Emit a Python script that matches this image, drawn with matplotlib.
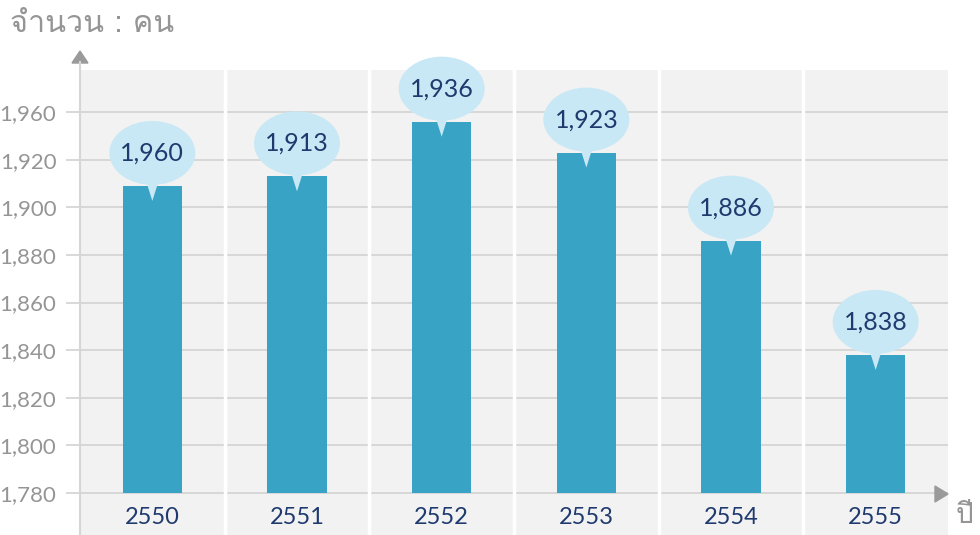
import matplotlib
matplotlib.use("Agg")
import matplotlib.pyplot as plt
from matplotlib import font_manager as fm
from matplotlib.ft2font import FT2Font
from matplotlib.patches import Ellipse, Polygon

# ---------------- data ----------------
years = ["2550", "2551", "2552", "2553", "2554", "2555"]
bar_values = [1909, 1913, 1936, 1923, 1886, 1838]
bubble_labels = ["1,960", "1,913", "1,936", "1,923", "1,886", "1,838"]
ytick_values = [1780, 1800, 1820, 1840, 1860, 1880, 1900, 1920, 1940]
ytick_labels = ["1,780", "1,800", "1,820", "1,840", "1,860", "1,880", "1,900", "1,920", "1,960"]
y_title = "จำนวน : คน"
x_title = "ปี"

BAR = "#38a3c5"
BUBBLE = "#c9e8f5"
NAVY = "#1f3a6e"
GREY_TXT = "#959595"
GRID = "#d2d2d2"
PANEL = "#f2f2f2"


def find_thai_font():
    for f in fm.fontManager.ttflist:
        try:
            if 0x0E08 in FT2Font(f.fname).get_charmap():
                return f.name
        except Exception:
            pass
    return "DejaVu Sans"


thai_font = find_thai_font()
num_font = "Lato"

W, H = 980, 535
fig = plt.figure(figsize=(W / 100, H / 100), dpi=100)
ax_left, ax_right, ax_top = 80, 948, 70
ax = fig.add_axes([ax_left / W, 0, (ax_right - ax_left) / W, (H - ax_top) / H])

ylo, yhi = 1762.35, 1957.7
ax.set_xlim(-0.5, len(years) - 0.5)
ax.set_ylim(ylo, yhi)
ax.set_facecolor(PANEL)
for s in ax.spines.values():
    s.set_visible(False)

# pixel -> data scale
px_x = (ax_right - ax_left) / len(years)
px_y = (H - ax_top) / (yhi - ylo)

# white separators between columns
for i in range(1, len(years)):
    ax.axvline(i - 0.5, color="white", lw=2.5, zorder=1)

# grid + y ticks
ax.set_yticks(ytick_values)
ax.set_yticklabels(ytick_labels, fontsize=16, color=GREY_TXT, family=num_font)
ax.yaxis.grid(True, color=GRID, lw=1.2, zorder=1.5)
ax.set_axisbelow(True)
ax.tick_params(axis="y", length=10, width=1.2, color=GRID, pad=7)
ax.set_xticks([])

x = list(range(len(years)))
ax.bar(x, [v - ytick_values[0] for v in bar_values], bottom=ytick_values[0],
       width=0.41, color=BAR, zorder=3)

ell_w = 86 / px_x
ell_h = 64 / px_y
for i, (v, lab) in enumerate(zip(bar_values, bubble_labels)):
    cy = v + 33 / px_y
    ax.add_patch(Ellipse((i, cy), ell_w, ell_h, color=BUBBLE, zorder=2, lw=0, clip_on=False))
    hw = 6 / px_x
    ax.add_patch(Polygon([(i - hw, v + 4 / px_y), (i + hw, v + 4 / px_y), (i, v - 15 / px_y)],
                         closed=True, color=BUBBLE, zorder=4, lw=0, clip_on=False))
    ax.text(i, cy, lab, ha="center", va="center", fontsize=18, color=NAVY,
            family=num_font, zorder=5, clip_on=False)
    ax.annotate(years[i], xy=(i, ytick_values[0]), xytext=(0, -25), textcoords="offset pixels",
                ha="center", va="center", fontsize=17, color=NAVY, family=num_font)

# axis lines with arrows (figure pixel coordinates)
ax_line_col = "#d6d6d6"
arrow_col = "#9a9a9a"
fig.lines.append(plt.Line2D([ax_left / W, ax_left / W], [0, (H - 62) / H],
                            transform=fig.transFigure, color=ax_line_col, lw=1.5))
fig.patches.append(Polygon([(ax_left - 8, H - 63), (ax_left + 8, H - 63), (ax_left, H - 51)],
                           closed=True, color=arrow_col, transform=None))
fig.patches.append(Polygon([(935, H - 486), (935, H - 502), (948, H - 494)],
                           closed=True, color=arrow_col, transform=None))

fig.text(10 / W, 1 - 24 / H, y_title, ha="left", va="center", fontsize=22,
         color=GREY_TXT, family=[thai_font, "DejaVu Sans"])
fig.text(956 / W, 1 - 516 / H, x_title, ha="left", va="center", fontsize=20,
         color=GREY_TXT, family=[thai_font, "DejaVu Sans"])

fig.savefig("out.png", dpi=100, facecolor="white")
